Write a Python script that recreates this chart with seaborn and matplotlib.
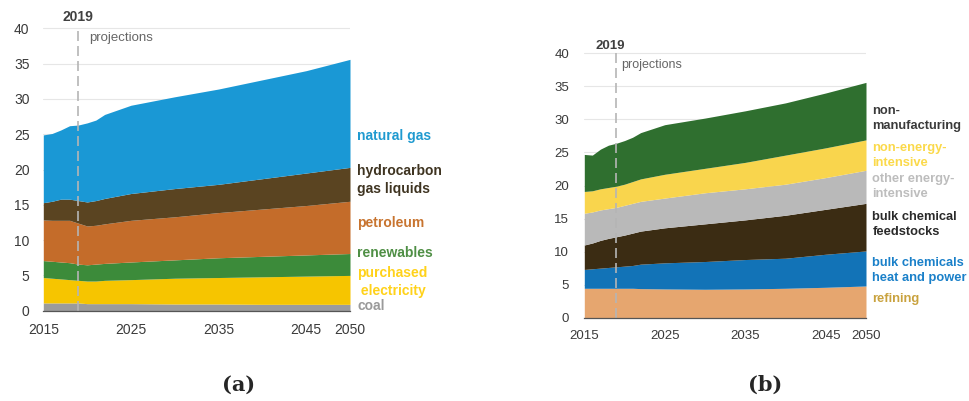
import numpy as np
import pandas as pd
import matplotlib
matplotlib.use("Agg")
import matplotlib.pyplot as plt
import seaborn as sns

# ---- data (quadrillion Btu) ----
years = [2015, 2016, 2017, 2018, 2019, 2020, 2021, 2022, 2025, 2030, 2035, 2040, 2045, 2050]

# (a) industrial consumption by fuel
coal = [1.1, 1.1, 1.1, 1.1, 1.1, 1.0, 1.0, 1.0, 1.0, 0.95, 0.95, 0.9, 0.9, 0.9]
purchased_electricity = [3.6, 3.5, 3.4, 3.3, 3.2, 3.2, 3.2, 3.3, 3.4, 3.65, 3.75, 3.9, 4.0, 4.1]
renewables = [2.4, 2.4, 2.4, 2.4, 2.3, 2.3, 2.4, 2.4, 2.5, 2.6, 2.8, 2.9, 3.0, 3.1]
petroleum = [5.75, 5.8, 5.9, 6.0, 5.8, 5.5, 5.5, 5.6, 5.9, 6.1, 6.4, 6.7, 7.0, 7.4]
hgl = [2.45, 2.7, 3.0, 3.0, 3.2, 3.4, 3.5, 3.6, 3.8, 4.0, 4.0, 4.3, 4.6, 4.8]
natural_gas = [9.6, 9.6, 9.8, 10.4, 10.7, 11.2, 11.4, 11.9, 12.5, 13.0, 13.5, 14.0, 14.5, 15.3]

fuel_labels = ["coal", "purchased\n electricity", "renewables", "petroleum",
               "hydrocarbon\ngas liquids", "natural gas"]
fuel_colors = ["#9b9b9b", "#f6c500", "#3c8b3a", "#c46c2a", "#5a4421", "#1a98d5"]
fuel_text_colors = ["#9a9a9a", "#ffd21a", "#4f8f45", "#c8742f", "#3f3421", "#1f9ad0"]
fuel_label_y = [0.6, 4.1, 8.2, 12.4, 18.5, 24.7]

# (b) industrial consumption by sector
refining = [4.45, 4.45, 4.45, 4.45, 4.45, 4.45, 4.45, 4.4, 4.35, 4.3, 4.35, 4.45, 4.6, 4.8]
bulk_chem_heat_power = [2.85, 2.95, 3.05, 3.15, 3.25, 3.35, 3.45, 3.7, 3.95, 4.2, 4.45, 4.55, 5.0, 5.3]
bulk_chem_feedstocks = [3.7, 3.9, 4.2, 4.4, 4.55, 4.7, 4.9, 5.0, 5.3, 5.7, 6.0, 6.5, 6.8, 7.2]
other_energy_intensive = [4.8, 4.7, 4.6, 4.5, 4.45, 4.5, 4.5, 4.5, 4.5, 4.7, 4.7, 4.7, 4.8, 5.0]
non_energy_intensive = [3.3, 3.2, 3.2, 3.2, 3.2, 3.2, 3.3, 3.4, 3.6, 3.7, 4.0, 4.4, 4.5, 4.6]
non_manufacturing = [5.6, 5.4, 6.0, 6.4, 6.5, 6.6, 6.7, 7.0, 7.5, 7.6, 7.8, 7.9, 8.3, 8.7]

sector_labels = ["refining", "bulk chemicals\nheat and power", "bulk chemical\nfeedstocks",
                 "other energy-\nintensive", "non-energy-\nintensive", "non-\nmanufacturing"]
sector_colors = ["#e6a66f", "#1273b7", "#3b2c13", "#b9b9b9", "#f9d54d", "#2f6f2f"]
sector_text_colors = ["#c9a23e", "#1a80c9", "#2a2a2a", "#bdbdbd", "#fbd94a", "#3a3a3a"]
sector_label_y = [2.8, 7.2, 14.1, 19.8, 24.5, 30.1]

tick_years = [2015, 2020, 2025, 2030, 2035, 2040, 2045, 2050]
tick_text = ["2015", "", "2025", "", "2035", "", "2045", "2050"]
yticks = [0, 5, 10, 15, 20, 25, 30, 35, 40]

df_a = pd.DataFrame({"year": years, "coal": coal, "elec": purchased_electricity,
                     "ren": renewables, "pet": petroleum, "hgl": hgl, "gas": natural_gas})
df_b = pd.DataFrame({"year": years, "ref": refining, "bchp": bulk_chem_heat_power,
                     "feed": bulk_chem_feedstocks, "oei": other_energy_intensive,
                     "nei": non_energy_intensive, "nonm": non_manufacturing})

sns.set_theme(style="white")
plt.rcParams["font.family"] = ["Liberation Sans", "DejaVu Sans"]

W, H = 969, 401
fig = plt.figure(figsize=(W / 100, H / 100), dpi=100)


def axes_from_px(x0, x1, y0_px, unit_px, ytop):
    """Place an axes so that x spans [x0, x1] px and y=0 sits at y0_px."""
    top_px = y0_px - ytop * unit_px
    return fig.add_axes([x0 / W, (H - y0_px) / H, (x1 - x0) / W, (y0_px - top_px) / H])


def draw_panel(ax, df, cols, colors, labels, text_colors, label_y, fs_tick, fs_lab,
               y2019, yproj, xproj, x2019_text, tick_pad_y):
    ytop = 42
    for yv in yticks[1:]:
        ax.axhline(yv, color="#e6e6e6", lw=0.8, zorder=0)
    ax.stackplot(df["year"], *[df[c] for c in cols], colors=colors, lw=0, zorder=2)
    ax.set_xlim(2015, 2050)
    ax.set_ylim(0, ytop)
    ax.set_yticks(yticks)
    ax.set_yticklabels([str(v) for v in yticks], fontsize=fs_tick, color="#3a3a3a")
    ax.set_xticks(tick_years)
    ax.set_xticklabels(tick_text, fontsize=fs_tick, color="#3a3a3a")
    ax.tick_params(axis="x", length=4, width=0.8, color="#555555", pad=5, direction="out")
    ax.tick_params(axis="y", length=0, pad=tick_pad_y)
    ax.grid(False)
    sns.despine(ax=ax, left=True, top=True, right=True)
    ax.spines["bottom"].set_color("#555555")
    ax.spines["bottom"].set_linewidth(0.9)
    ax.spines["bottom"].set_zorder(5)

    ax.plot([2019, 2019], [0, 40], color="#b5b5b5", lw=1.2, ls=(0, (6, 3)), zorder=4)
    ax.text(x2019_text, y2019, "2019", ha="center", va="center", fontsize=fs_tick,
            fontweight="bold", color="#404040", clip_on=False)
    ax.text(xproj, yproj, "projections", ha="left", va="center", fontsize=fs_tick - 0.5,
            color="#666666")
    for lab, c, yv in zip(labels, text_colors, label_y):
        ax.text(2050.8, yv, lab, ha="left", va="center", fontsize=fs_lab, fontweight="bold",
                color=c, linespacing=1.35, clip_on=False)


ax_a = axes_from_px(43.3, 350, 310.7, 7.06, 42)
draw_panel(ax_a, df_a, ["coal", "elec", "ren", "pet", "hgl", "gas"], fuel_colors,
           fuel_labels, fuel_text_colors, fuel_label_y, 10, 10,
           y2019=41.6, yproj=38.6, xproj=2020.2, x2019_text=2018.9, tick_pad_y=10)

ax_b = axes_from_px(584.3, 866, 317.7, 6.61, 42)
draw_panel(ax_b, df_b, ["ref", "bchp", "feed", "oei", "nei", "nonm"], sector_colors,
           sector_labels, sector_text_colors, sector_label_y, 9.5, 9.3,
           y2019=41.1, yproj=38.3, xproj=2019.6, x2019_text=2018.25, tick_pad_y=11)

fig.text(238.5 / W, 1 - 385 / H, "(a)", ha="center", va="center", fontsize=15,
         fontweight="bold", family="DejaVu Serif")
fig.text(765 / W, 1 - 385 / H, "(b)", ha="center", va="center", fontsize=15,
         fontweight="bold", family="DejaVu Serif")

fig.savefig("out.png", dpi=100, facecolor="white")
